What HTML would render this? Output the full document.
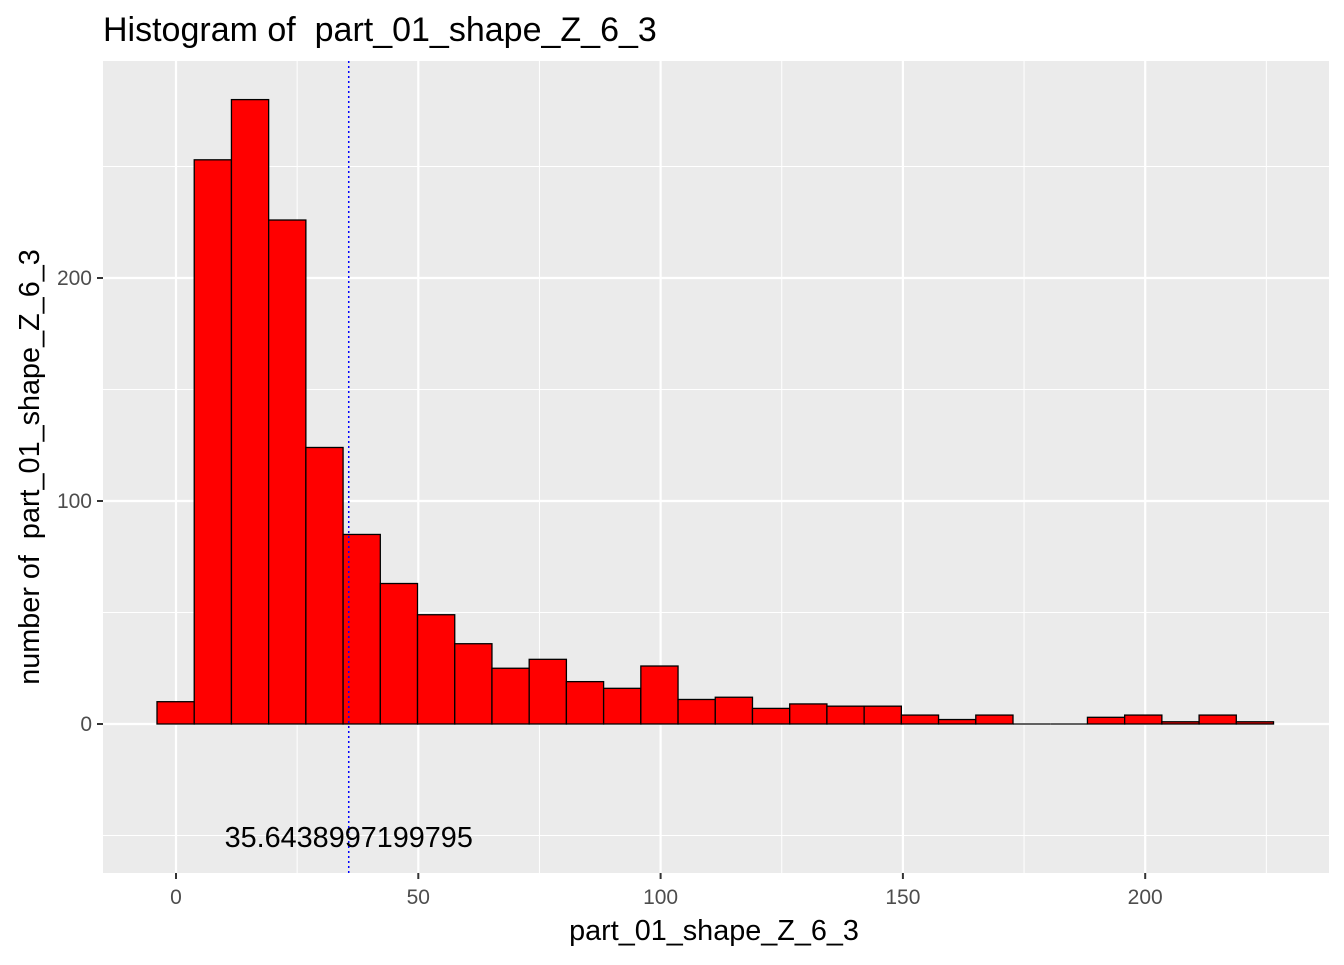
<!DOCTYPE html>
<html><head><meta charset="utf-8"><style>
body{margin:0;background:#fff;}
svg text{font-family:"Liberation Sans",sans-serif;white-space:pre;}
</style></head><body>
<svg id="chart" width="1344" height="960" xmlns="http://www.w3.org/2000/svg" xml:space="preserve">
<text x="103" y="41" font-size="34" fill="#000">Histogram of  part_01_shape_Z_6_3</text>
<rect x="103" y="61" width="1226" height="812" fill="#ebebeb"/>
<g id="grid"></g>
<g id="bars"></g>
<g id="axes"></g>
<text x="714" y="940" font-size="28.8" text-anchor="middle" fill="#000">part_01_shape_Z_6_3</text>
<text transform="translate(39,467) rotate(-90)" font-size="28.8" text-anchor="middle" fill="#000">number of  part_01_shape_Z_6_3</text>
</svg>
<script>
const counts=[10,253,280,226,124,85,63,49,36,25,29,19,16,26,11,12,7,9,8,8,4,2,4,0,0,3,4,1,4,1];
const binStart=-3.92;
const binWidth=7.68;
const xTicks=[0,50,100,150,200];
const yTicks=[0,100,200];
const meanValue=35.6438997199795;
const meanLabel="35.6438997199795";
const NS="http://www.w3.org/2000/svg";
const xs=v=>176+v*4.846;
const ys=v=>724-v*2.23;
function mk(tag,attrs,parent){const e=document.createElementNS(NS,tag);for(const k in attrs)e.setAttribute(k,attrs[k]);document.getElementById(parent).appendChild(e);return e;}
[25,75,125,175,225].forEach(v=>{const l=mk('line',{x1:xs(v),x2:xs(v),y1:61,y2:873,stroke:'#fff','stroke-width':1},'grid');

});
[-50,50,150,250].forEach(v=>{const l=mk('line',{x1:103,x2:1329,y1:ys(v),y2:ys(v),stroke:'#fff','stroke-width':1},'grid');

});
xTicks.forEach(v=>{const l=mk('line',{x1:xs(v),x2:xs(v),y1:61,y2:873,stroke:'#fff','stroke-width':2.2},'grid');


const t=mk('line',{x1:xs(v),x2:xs(v),y1:873,y2:879,stroke:'#333','stroke-width':2},'axes');


const tx=mk('text',{x:xs(v),y:904,'font-size':21,'text-anchor':'middle',fill:'#4d4d4d'},'axes');tx.textContent=v;

});
yTicks.forEach(v=>{const l=mk('line',{x1:103,x2:1329,y1:ys(v),y2:ys(v),stroke:'#fff','stroke-width':2.2},'grid');


const t=mk('line',{x1:97,x2:103,y1:ys(v),y2:ys(v),stroke:'#333','stroke-width':2},'axes');


const tx=mk('text',{x:92,y:ys(v)+7,'font-size':21,'text-anchor':'end',fill:'#4d4d4d'},'axes');tx.textContent=v;

});
counts.forEach((c,i)=>{const x0=xs(binStart+i*binWidth),x1=xs(binStart+(i+1)*binWidth);
if(c>0){
const r=mk('rect',{x:x0,y:ys(c),width:x1-x0,height:ys(0)-ys(c),fill:'#ff0000',stroke:'#000','stroke-width':1.3},'bars');


}else{
const r=mk('line',{x1:x0,x2:x1,y1:ys(0),y2:ys(0),stroke:'#000','stroke-width':1.3},'bars');


}});
const ml=mk('line',{x1:xs(meanValue),x2:xs(meanValue),y1:61,y2:873,stroke:'#0000ff','stroke-width':1.5,'stroke-dasharray':'2,3'},'bars');


const mt=mk('text',{x:xs(meanValue),y:847,'font-size':28.8,'text-anchor':'middle',fill:'#000'},'bars');mt.textContent=meanLabel;


</script>
</body></html>
